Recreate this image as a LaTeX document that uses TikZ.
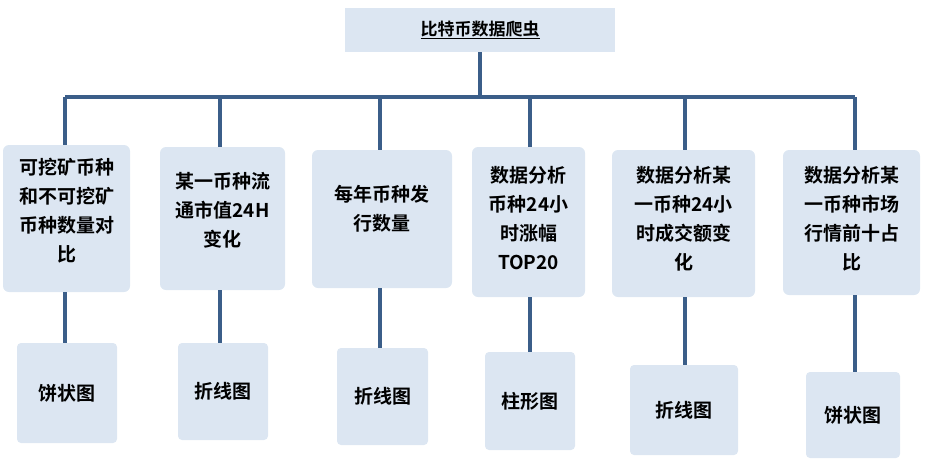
\documentclass[tikz,border=0pt]{standalone}
\usepackage{fontspec}
\setmainfont{Noto Sans CJK SC}[BoldFont={Noto Sans CJK SC Bold}]
\begin{document}
\begin{tikzpicture}[x=1pt,y=-1pt,
  lbl/.style={font=\bfseries\fontsize{19}{29}\selectfont,align=center,text=black,inner sep=0pt},
  con/.style={draw=linec,line width=3.5pt}]
\definecolor{boxc}{HTML}{DCE6F2}
\definecolor{linec}{HTML}{3B5E89}
\useasboundingbox (0,0) rectangle (925,467);
\fill[boxc] (345,8) rectangle (615,52);
\node[lbl,font=\bfseries\fontsize{17}{20}\selectfont] (top) at (480,30) {\underline{比特币数据爬虫}};
\coordinate (tb) at (480,52);
\coordinate (bus) at (480,97);
\draw[con] (tb) -- (bus);
\draw[con] (65,97) -- (855,97);
\foreach \i/\xa/\ya/\xb/\yb/\cx/\ty/\t/\ba/\bb/\bc/\bd/\bt in {
 1/3/145/130/292/65/158/{可挖矿币种\\和不可挖矿\\币种数量对\\比}/17/343/117/443/饼状图,
 2/160/147/285/290/220/172/{某一币种流\\通市值24H\\变化}/178/343/268/440/折线图,
 3/312/150/452/288/380/185/{每年币种发\\行数量}/337/348/428/445/折线图,
 4/472/147/585/297/530/166/{数据分析\\币种24小\\时涨幅\\TOP20}/485/352/575/450/柱形图,
 5/612/150/755/297/685/166/{数据分析某\\一币种24小\\时成交额变\\化}/630/365/738/455/折线图,
 6/783/150/920/295/855/166/{数据分析某\\一币种市场\\行情前十占\\比}/806/372/900/458/饼状图}{
  \coordinate (b\i) at (\cx,97);
  \draw[con] (b\i) -- (\cx,\ya);
  \fill[boxc,rounded corners=6pt] (\xa,\ya) rectangle (\xb,\yb);
  \node[lbl,anchor=north] (m\i) at ({(\xa+\xb)/2},\ty) {\t};
  \draw[con] (\cx,\yb) -- (\cx,\bb);
  \fill[boxc,rounded corners=4pt] (\ba,\bb) rectangle (\bc,\bd);
  \node[lbl] (n\i) at ({(\ba+\bc)/2},{(\bb+\bd)/2}) {\bt};
}
\end{tikzpicture}
\end{document}
